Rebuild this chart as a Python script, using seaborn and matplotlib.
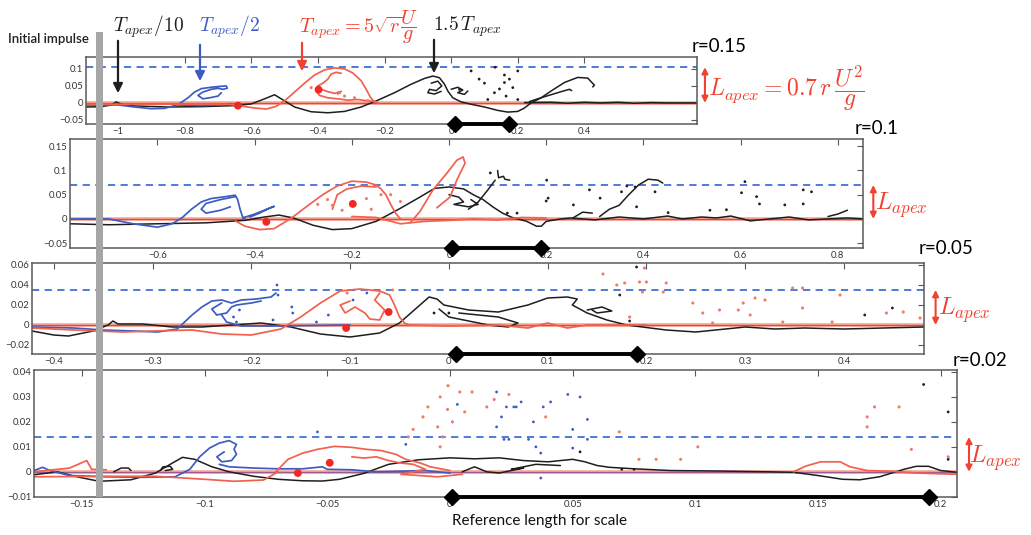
import matplotlib
matplotlib.use('Agg')
import matplotlib.pyplot as plt
import numpy as np
import pandas as pd
import seaborn as sns
from matplotlib.patches import Rectangle, FancyArrowPatch

# ---------------- data ----------------
R_LABELS = ['r=0.15', 'r=0.1', 'r=0.05', 'r=0.02']
DASH_Y = [0.105, 0.07, 0.035, 0.014]
XLIMS = [(-1.096, 0.738), (-0.78, 0.852), (-0.422, 0.481), (-0.1695, 0.2066)]
YLIMS = [(-0.062, 0.135), (-0.060, 0.165), (-0.029, 0.062), (-0.0101, 0.0408)]
XTICKS_1 = [-1, -0.8, -0.6, -0.4, -0.2, 0, 0.2, 0.4]
XTICKS_2 = [-0.6, -0.4, -0.2, 0, 0.2, 0.4, 0.6, 0.8]
XTICKS_3 = [-0.4, -0.3, -0.2, -0.1, 0, 0.1, 0.2, 0.3, 0.4]
XTICKS_4 = [-0.15, -0.1, -0.05, 0, 0.05, 0.1, 0.15, 0.2]
YTICKS_1 = [-0.05, 0, 0.05, 0.1]
YTICKS_2 = [-0.05, 0, 0.05, 0.1, 0.15]
YTICKS_3 = [-0.02, 0, 0.02, 0.04, 0.06]
YTICKS_4 = [-0.01, 0, 0.01, 0.02, 0.03, 0.04]
REF_BAR_X = [(0.012, 0.175), (0.006, 0.19), (0.007, 0.19), (0.001, 0.195)]

# ---- panel 1 (r=0.15) ----
P1_BLACK_MAIN = [(-1.096, -0.012), (-1.05, -0.011), (-1.02, -0.006), (-1.005, 0.003), (-0.99, -0.004),
                 (-0.95, -0.009), (-0.85, -0.012), (-0.75, -0.011), (-0.65, -0.008), (-0.6, -0.003),
                 (-0.56, 0.012), (-0.53, 0.024), (-0.51, 0.012), (-0.47, -0.012), (-0.42, -0.026),
                 (-0.37, -0.029), (-0.32, -0.025), (-0.27, -0.012), (-0.22, 0.008), (-0.17, 0.03),
                 (-0.12, 0.055), (-0.08, 0.072), (-0.055, 0.079), (-0.035, 0.074), (-0.02, 0.055),
                 (-0.01, 0.035), (0.005, 0.015), (0.03, 0.003), (0.06, -0.004), (0.1, -0.012),
                 (0.14, -0.022), (0.17, -0.027), (0.2, -0.025), (0.22, -0.015), (0.24, 0.0),
                 (0.27, 0.015), (0.3, 0.035), (0.34, 0.06), (0.38, 0.075), (0.41, 0.073),
                 (0.43, 0.052), (0.425, 0.047)]
P1_BLACK_JET = [(0.235, 0.004), (0.26, 0.012), (0.286, 0.02), (0.33, 0.033), (0.355, 0.04), (0.362, 0.036)]
P1_BLACK_FLAT = [(0.22, 0.001), (0.3, 0.002), (0.35, -0.001), (0.4, 0.002), (0.45, 0.0), (0.5, 0.002),
                 (0.55, -0.001), (0.6, 0.001), (0.65, 0.0), (0.738, 0.0)]
P1_BLACK_LOOP = [(-0.06, 0.058), (-0.04, 0.064), (-0.028, 0.05), (-0.045, 0.036), (-0.065, 0.04),
                 (-0.07, 0.03), (-0.05, 0.026), (-0.03, 0.034)]
P1_BLACK_CURL = [(0.0, 0.04), (0.02, 0.046), (0.035, 0.038), (0.02, 0.03), (0.04, 0.025), (0.05, 0.035)]
P1_BLACK_DOTS = [(0.06, 0.094), (0.084, 0.07), (0.132, 0.105), (0.145, 0.041), (0.16, 0.082),
                 (0.175, 0.07), (0.165, 0.02), (0.13, 0.03), (0.16, 0.06), (0.2, 0.094),
                 (0.2, 0.01), (0.1, 0.058), (0.025, 0.04), (0.11, 0.01), (0.185, 0.045)]
P1_BLUE_MAIN = [(-1.096, -0.006), (-1.0, -0.006), (-0.95, -0.012), (-0.9, -0.017), (-0.86, -0.016),
                (-0.82, -0.005), (-0.79, 0.015), (-0.77, 0.032), (-0.75, 0.042), (-0.72, 0.046),
                (-0.69, 0.049), (-0.675, 0.05), (-0.672, 0.043), (-0.685, 0.04), (-0.7, 0.043),
                (-0.72, 0.04), (-0.745, 0.032), (-0.76, 0.022), (-0.745, 0.012), (-0.72, 0.016),
                (-0.7, 0.02), (-0.69, 0.03)]
P1_BLUE_BASE = [(-0.82, -0.006), (-0.75, -0.008), (-0.7, -0.006), (-0.66, -0.004)]
P1_RED_OUTER = [(-0.67, -0.004), (-0.63, -0.009), (-0.59, -0.015), (-0.555, -0.018), (-0.525, -0.01),
                (-0.5, 0.006), (-0.47, 0.032), (-0.44, 0.058), (-0.41, 0.082), (-0.38, 0.097),
                (-0.35, 0.103), (-0.32, 0.1), (-0.295, 0.088), (-0.27, 0.065), (-0.255, 0.04),
                (-0.243, 0.018), (-0.232, 0.004), (-0.22, 0.0)]
P1_RED_INNER = [(-0.225, 0.004), (-0.25, 0.006), (-0.28, 0.01), (-0.31, 0.008), (-0.34, 0.012),
                (-0.37, 0.015), (-0.395, 0.022), (-0.405, 0.035), (-0.4, 0.05), (-0.385, 0.058),
                (-0.37, 0.07), (-0.36, 0.085), (-0.345, 0.09), (-0.33, 0.087)]
P1_RED_SWIRL = [(-0.39, 0.04), (-0.37, 0.033), (-0.35, 0.028), (-0.33, 0.034), (-0.34, 0.026)]
P1_RED_BASE = [(-1.096, -0.004), (-0.9, -0.004), (-0.75, -0.003), (-0.67, -0.004)]
P1_RED_BIG = [(-0.398, 0.039), (-0.64, -0.008)]
P1_RED_DOTS = [(-0.335, 0.03), (-0.32, 0.02), (-0.25, 0.007), (-0.42, 0.045), (-0.29, 0.015)]

# ---- panel 2 (r=0.1) ----
P2_BLACK_MAIN = [(-0.78, -0.01), (-0.7, -0.012), (-0.6, -0.01), (-0.5, -0.008), (-0.42, -0.003),
                 (-0.38, 0.004), (-0.35, 0.008), (-0.32, 0.002), (-0.28, -0.013), (-0.24, -0.022),
                 (-0.2, -0.02), (-0.15, -0.005), (-0.1, 0.022), (-0.06, 0.045), (-0.03, 0.063),
                 (0.0, 0.066), (0.03, 0.062), (0.05, 0.05), (0.07, 0.04), (0.09, 0.025), (0.11, 0.012),
                 (0.13, 0.003), (0.16, -0.005), (0.18, -0.015), (0.19, -0.015), (0.2, -0.005),
                 (0.23, 0.0), (0.25, 0.002), (0.3, -0.002), (0.35, 0.004), (0.4, 0.0), (0.45, 0.006),
                 (0.48, 0.0), (0.52, 0.004), (0.55, 0.002), (0.58, 0.006), (0.62, -0.004), (0.66, 0.0),
                 (0.7, 0.004), (0.74, -0.002), (0.78, 0.0), (0.82, 0.002), (0.852, 0.0)]
P2_BLACK_JET = [(0.04, 0.02), (0.06, 0.035), (0.08, 0.06), (0.095, 0.08)]
P2_BLACK_LOOP = [(0.0, 0.05), (0.02, 0.045), (0.03, 0.035), (0.01, 0.03), (0.04, 0.025), (0.06, 0.03),
                 (0.045, 0.04)]
P2_BLACK_FRAG1 = [(0.255, 0.002), (0.275, 0.014), (0.295, 0.012)]
P2_BLACK_FRAG2 = [(0.31, 0.005), (0.33, 0.02), (0.35, 0.028), (0.37, 0.05), (0.39, 0.07), (0.41, 0.082),
                  (0.43, 0.08), (0.44, 0.074)]
P2_BLACK_TAIL = [(0.78, 0.005), (0.8, 0.01), (0.82, 0.018)]
P2_BLACK_B = [(0.1, 0.1), (0.102, 0.085), (0.112, 0.088), (0.115, 0.082), (0.125, 0.08)]
P2_BLACK_DOTS = [(0.201, 0.08), (0.204, 0.043), (0.2, 0.037), (0.256, 0.029), (0.289, 0.06),
                 (0.311, 0.043), (0.355, 0.056), (0.366, 0.068), (0.383, 0.066), (0.386, 0.025),
                 (0.424, 0.056), (0.451, 0.013), (0.537, 0.018), (0.571, 0.019), (0.602, 0.054),
                 (0.609, 0.077), (0.633, 0.046), (0.639, 0.031), (0.691, 0.029), (0.729, 0.06),
                 (0.746, 0.056), (0.729, 0.031), (0.12, 0.012), (0.14, 0.012), (0.085, 0.095)]
P2_BLUE_MAIN = [(-0.78, 0.0), (-0.7, 0.0), (-0.65, -0.01), (-0.6, -0.017), (-0.57, -0.01),
                (-0.55, 0.002), (-0.53, 0.02), (-0.51, 0.035), (-0.49, 0.042), (-0.46, 0.046),
                (-0.44, 0.049), (-0.435, 0.04), (-0.43, 0.02), (-0.425, 0.005), (-0.42, 0.0)]
P2_BLUE_LOOP = [(-0.44, 0.046), (-0.47, 0.04), (-0.5, 0.032), (-0.51, 0.02), (-0.5, 0.012),
                (-0.47, 0.018), (-0.45, 0.025)]
P2_BLUE_TONGUE = [(-0.425, 0.002), (-0.4, 0.01), (-0.38, 0.018), (-0.36, 0.026), (-0.37, 0.022),
                  (-0.39, 0.012), (-0.41, 0.004)]
P2_RED_OUTER = [(-0.44, -0.004), (-0.42, -0.015), (-0.39, -0.022), (-0.36, -0.02), (-0.34, -0.008),
                (-0.32, 0.005), (-0.29, 0.028), (-0.26, 0.05), (-0.23, 0.068), (-0.2, 0.078),
                (-0.17, 0.076), (-0.15, 0.07), (-0.14, 0.062), (-0.13, 0.05), (-0.12, 0.03),
                (-0.11, 0.012), (-0.1, 0.0)]
P2_RED_INNER = [(-0.15, 0.066), (-0.18, 0.068), (-0.21, 0.062), (-0.23, 0.05), (-0.235, 0.035),
                (-0.24, 0.02)]
P2_RED_JET = [(-0.08, -0.008), (-0.06, 0.015), (-0.033, 0.06), (-0.004, 0.095), (0.016, 0.121),
              (0.029, 0.128), (0.033, 0.115), (0.016, 0.08), (0.002, 0.045), (-0.025, 0.023)]
P2_RED_BASE = [(-0.2, 0.005), (-0.15, 0.003), (-0.1, -0.01), (-0.05, -0.005), (0.0, -0.003),
               (0.05, 0.0), (0.1, -0.002), (0.15, 0.003), (0.2, 0.002)]
P2_RED_BIG = [(-0.376, -0.006), (-0.198, 0.031)]
P2_RED_DOTS = [(-0.25, 0.04), (-0.24, 0.028), (-0.22, 0.018), (-0.17, 0.042), (-0.14, 0.05),
               (-0.12, 0.05), (-0.1, 0.036), (-0.27, 0.03), (-0.16, 0.02)]

# ---- panel 3 (r=0.05) ----
P3_BLACK_MAIN = [(-0.422, -0.006), (-0.4, -0.01), (-0.385, -0.011), (-0.36, -0.006), (-0.345, 0.0),
                 (-0.34, 0.004), (-0.335, 0.001), (-0.31, 0.001), (-0.28, -0.002), (-0.25, -0.002),
                 (-0.22, 0.0), (-0.19, 0.002), (-0.16, -0.002), (-0.13, -0.009), (-0.1, -0.012),
                 (-0.07, -0.008), (-0.05, 0.002), (-0.035, 0.015), (-0.02, 0.028), (-0.012, 0.026),
                 (-0.005, 0.02), (0.02, 0.015), (0.05, 0.013), (0.08, 0.02), (0.1, 0.027),
                 (0.12, 0.028), (0.13, 0.026), (0.125, 0.02), (0.14, 0.012), (0.16, 0.005),
                 (0.18, 0.0), (0.22, -0.005), (0.25, -0.007), (0.28, -0.004), (0.3, -0.002),
                 (0.33, -0.004), (0.36, -0.003), (0.4, -0.004), (0.44, -0.003), (0.481, -0.002)]
P3_BLACK_LOOPS = [(-0.01, 0.016), (0.0, 0.008), (0.02, 0.004), (0.04, 0.0), (0.06, -0.002),
                  (0.07, 0.002), (0.05, 0.008), (0.03, 0.01), (0.01, 0.012)]
P3_BLACK_CURL = [(0.14, 0.015), (0.155, 0.018), (0.165, 0.014), (0.15, 0.012), (0.145, 0.015)]
P3_BLACK_DOTS = [(0.19, 0.058), (0.173, 0.03), (0.421, 0.01), (0.449, 0.017), (0.183, 0.004),
                 (0.0, 0.012), (-0.015, 0.012)]
P3_BLUE_MAIN = [(-0.422, -0.002), (-0.38, -0.003), (-0.35, -0.005), (-0.32, -0.006), (-0.295, -0.007),
                (-0.275, -0.004), (-0.26, 0.01), (-0.25, 0.018), (-0.24, 0.024), (-0.23, 0.025),
                (-0.22, 0.022), (-0.21, 0.025), (-0.195, 0.026), (-0.18, 0.028), (-0.175, 0.032)]
P3_BLUE_LOOP = [(-0.23, 0.022), (-0.24, 0.016), (-0.235, 0.01), (-0.225, 0.012), (-0.22, 0.018),
                (-0.215, 0.02), (-0.2, 0.022), (-0.19, 0.024)]
P3_BLUE_BASE = [(-0.23, 0.01), (-0.225, 0.003), (-0.21, -0.001), (-0.18, -0.001), (-0.1, 0.0)]
P3_BLUE_DOTS = [(-0.174, 0.04), (-0.173, 0.03), (-0.159, 0.018), (-0.158, 0.012), (-0.212, 0.015),
                (-0.218, 0.008), (-0.215, 0.003), (-0.134, 0.003), (-0.122, 0.01), (-0.178, 0.005),
                (-0.097, 0.025), (-0.083, 0.032)]
P3_RED_OUTER = [(-0.26, -0.005), (-0.23, -0.009), (-0.2, -0.01), (-0.17, -0.004), (-0.15, 0.008),
                (-0.13, 0.022), (-0.11, 0.034), (-0.09, 0.036), (-0.07, 0.034), (-0.06, 0.03),
                (-0.055, 0.02), (-0.05, 0.008), (-0.045, 0.002), (-0.04, 0.0)]
P3_RED_INNER = [(-0.1, 0.024), (-0.11, 0.02), (-0.105, 0.012), (-0.095, 0.018), (-0.085, 0.012),
                (-0.08, 0.006), (-0.07, 0.005), (-0.065, 0.015), (-0.075, 0.025), (-0.07, 0.032)]
P3_RED_LOWER = [(-0.422, -0.003), (-0.38, -0.005), (-0.33, -0.007), (-0.3, -0.006), (-0.26, -0.005)]
P3_RED_BASE = [(-0.04, 0.0), (0.0, -0.001), (0.05, 0.0), (0.08, -0.003), (0.1, 0.002), (0.12, -0.003),
               (0.14, 0.0), (0.2, 0.0)]
P3_RED_BIG = [(-0.104, -0.003), (-0.061, 0.013)]
P3_RED_DOTS = [(0.156, 0.051), (0.17, 0.04), (0.178, 0.042), (0.193, 0.043), (0.198, 0.057),
               (0.2, 0.043), (0.196, 0.033), (0.22, 0.042), (0.217, 0.033), (0.183, 0.008),
               (0.247, 0.022), (0.257, 0.012), (0.274, 0.015), (0.298, 0.022), (0.293, 0.015),
               (0.31, 0.027), (0.32, 0.025), (0.305, 0.01), (0.267, 0.002), (0.338, 0.003),
               (0.348, 0.037), (0.358, 0.037), (0.358, 0.017), (0.396, 0.03), (0.388, 0.003),
               (0.443, 0.012), (0.46, 0.013), (0.477, 0.007), (-0.057, 0.035), (-0.103, 0.032)]

# ---- panel 4 (r=0.02) ----
P4_BLACK_MAIN = [(-0.1695, -0.0012), (-0.16, 0.0), (-0.152, -0.002), (-0.143, -0.0038), (-0.13, -0.0032),
                 (-0.12, -0.0005), (-0.114, 0.003), (-0.109, 0.0058), (-0.104, 0.005), (-0.097, 0.002),
                 (-0.09, 0.0), (-0.08, -0.0018), (-0.07, -0.003), (-0.06, -0.0036), (-0.052, -0.0037),
                 (-0.045, -0.003), (-0.035, -0.0006), (-0.025, 0.003), (-0.013, 0.0048), (0.0, 0.0056),
                 (0.01, 0.0052), (0.02, 0.0056), (0.03, 0.0045), (0.04, 0.004), (0.05, 0.005),
                 (0.055, 0.004), (0.06, 0.0025), (0.065, 0.0018), (0.075, 0.0012), (0.09, 0.0005),
                 (0.11, 0.0003), (0.13, 0.0), (0.14, -0.0002), (0.15, -0.0015), (0.16, -0.003),
                 (0.167, -0.0032), (0.175, -0.002), (0.185, 0.001), (0.19, 0.0022), (0.195, 0.0022),
                 (0.2, 0.0005), (0.2066, -0.0002)]
P4_BLACK_BUMP = [(-0.137, 0.0), (-0.134, 0.0015), (-0.131, 0.0015), (-0.13, 0.0005)]
P4_BLACK_RING = [(-0.118, 0.0005), (-0.117, 0.002), (-0.114, 0.0022), (-0.113, 0.001), (-0.116, 0.0005)]
P4_BLACK_LOOP = [(0.005, 0.0), (0.01, 0.002), (0.015, 0.0), (0.02, -0.0005), (0.03, 0.0015),
                 (0.025, 0.001), (0.035, 0.003), (0.045, 0.0025)]
P4_BLACK_DOTS = [(0.193, 0.035), (0.203, 0.024), (0.053, 0.008), (0.203, 0.005), (0.07, 0.001),
                 (0.075, 0.001)]
P4_BLUE_MAIN = [(-0.1695, 0.0005), (-0.166, 0.0018), (-0.163, 0.0005), (-0.155, -0.0015), (-0.14, -0.002),
                (-0.125, -0.0022), (-0.112, -0.002), (-0.106, 0.001), (-0.102, 0.006), (-0.098, 0.0095),
                (-0.094, 0.0115), (-0.09, 0.0125), (-0.087, 0.011), (-0.088, 0.009), (-0.087, 0.007),
                (-0.089, 0.0045), (-0.093, 0.004), (-0.095, 0.006), (-0.092, 0.008)]
P4_BLUE_TAIL = [(-0.094, 0.003), (-0.09, 0.002), (-0.08, 0.0015), (-0.07, 0.0012), (-0.06, 0.0012),
                (-0.052, 0.002), (-0.05, 0.001), (-0.04, 0.0008), (-0.03, 0.0), (-0.01, 0.0005),
                (0.0, -0.0005)]
P4_BLUE_DOTS = [(0.019, 0.032), (0.023, 0.026), (0.027, 0.026), (0.019, 0.018), (0.022, 0.013),
                (-0.018, 0.011), (-0.054, 0.016), (0.003, 0.027), (0.021, 0.022), (0.026, 0.026),
                (0.029, 0.028), (0.034, 0.02), (0.038, 0.026), (0.041, 0.028), (0.048, 0.031),
                (0.053, 0.03), (0.05, 0.017), (0.056, 0.021), (0.024, 0.013), (0.032, 0.013),
                (0.035, 0.01), (0.037, 0.0075), (0.05, 0.0095), (0.056, 0.013), (0.037, -0.0025)]
P4_RED_LEFT = [(-0.1695, 0.0), (-0.155, 0.0015), (-0.148, 0.0045), (-0.146, 0.001), (-0.14, 0.0008)]
P4_RED_LOWER = [(-0.1695, -0.002), (-0.14, -0.0018), (-0.12, -0.0018), (-0.1, -0.003), (-0.088, -0.0038),
                (-0.076, -0.0033), (-0.07, 0.0)]
P4_RED_OUTER = [(-0.071, 0.0), (-0.066, 0.005), (-0.06, 0.0075), (-0.054, 0.009), (-0.047, 0.0102),
                (-0.04, 0.0098), (-0.034, 0.009), (-0.028, 0.0085), (-0.022, 0.007), (-0.018, 0.005),
                (-0.012, 0.0035), (-0.008, 0.002), (0.0, 0.0005)]
P4_RED_INNER = [(-0.04, 0.006), (-0.035, 0.0055), (-0.03, 0.006), (-0.025, 0.0045), (-0.02, 0.0035),
                (-0.015, 0.003), (-0.01, 0.001), (-0.02, -0.001), (-0.005, -0.002), (0.005, -0.001)]
P4_RED_RIGHT = [(0.14, 0.0), (0.145, 0.0023), (0.151, 0.004), (0.159, 0.004), (0.163, 0.002),
                (0.17, 0.0005), (0.18, 0.0002), (0.19, -0.0005), (0.2066, -0.001)]
P4_RED_BIG = [(-0.062, -0.0005), (-0.049, 0.0036)]
P4_RED_DOTS = [(-0.0008, 0.0345), (0.004, 0.032), (-0.004, 0.03), (-0.009, 0.026), (-0.011, 0.022),
               (-0.015, 0.017), (-0.017, 0.014), (-0.001, 0.025), (-0.005, 0.018), (-0.003, 0.014),
               (0.001, 0.02), (0.006, 0.024), (0.009, 0.032), (0.015, 0.026), (0.018, 0.029),
               (0.024, 0.031), (-0.004, 0.01), (0.039, 0.022), (0.069, 0.016), (0.077, 0.005),
               (0.084, 0.005), (0.094, 0.005), (0.101, 0.01), (0.17, 0.022), (0.17, 0.018),
               (0.173, 0.026), (0.183, 0.026), (0.188, 0.009), (0.203, 0.006)]

PANEL_CURVES = [
    {'black': [P1_BLACK_MAIN, P1_BLACK_JET, P1_BLACK_FLAT, P1_BLACK_LOOP, P1_BLACK_CURL],
     'blue': [P1_BLUE_MAIN, P1_BLUE_BASE],
     'red': [P1_RED_OUTER, P1_RED_INNER, P1_RED_SWIRL, P1_RED_BASE],
     'black_dots': P1_BLACK_DOTS, 'blue_dots': [], 'red_dots': P1_RED_DOTS, 'red_big': P1_RED_BIG},
    {'black': [P2_BLACK_MAIN, P2_BLACK_JET, P2_BLACK_LOOP, P2_BLACK_FRAG1, P2_BLACK_FRAG2,
               P2_BLACK_TAIL, P2_BLACK_B],
     'blue': [P2_BLUE_MAIN, P2_BLUE_LOOP, P2_BLUE_TONGUE],
     'red': [P2_RED_OUTER, P2_RED_INNER, P2_RED_JET, P2_RED_BASE],
     'black_dots': P2_BLACK_DOTS, 'blue_dots': [], 'red_dots': P2_RED_DOTS, 'red_big': P2_RED_BIG},
    {'black': [P3_BLACK_MAIN, P3_BLACK_LOOPS, P3_BLACK_CURL],
     'blue': [P3_BLUE_MAIN, P3_BLUE_LOOP, P3_BLUE_BASE],
     'red': [P3_RED_OUTER, P3_RED_INNER, P3_RED_LOWER, P3_RED_BASE],
     'black_dots': P3_BLACK_DOTS, 'blue_dots': P3_BLUE_DOTS, 'red_dots': P3_RED_DOTS, 'red_big': P3_RED_BIG},
    {'black': [P4_BLACK_MAIN, P4_BLACK_BUMP, P4_BLACK_RING, P4_BLACK_LOOP],
     'blue': [P4_BLUE_MAIN, P4_BLUE_TAIL],
     'red': [P4_RED_LEFT, P4_RED_LOWER, P4_RED_OUTER, P4_RED_INNER, P4_RED_RIGHT],
     'black_dots': P4_BLACK_DOTS, 'blue_dots': P4_BLUE_DOTS, 'red_dots': P4_RED_DOTS, 'red_big': P4_RED_BIG},
]

# ---------------- style ----------------
sns.set_theme(style='white')
plt.rcParams['font.family'] = ['Lato', 'DejaVu Sans']
plt.rcParams['mathtext.fontset'] = 'cm'
plt.rcParams['axes.unicode_minus'] = True

W, H = 1031, 535
BLACK = '#1e1e1e'
BLUE = '#3c5cc2'
RED = '#f2604e'
RED_TXT = '#f2412f'
DASH = '#3e72d8'
FRAME = '#5a5a5a'

fig = plt.figure(figsize=(W / 100, H / 100), dpi=100)
fig.patch.set_facecolor('white')

AXES_PX = [(86, 57, 697, 124), (70, 139, 863, 248), (32, 263, 924, 354), (34, 370, 957, 497)]
XTICKS = [XTICKS_1, XTICKS_2, XTICKS_3, XTICKS_4]
YTICKS = [YTICKS_1, YTICKS_2, YTICKS_3, YTICKS_4]


def fmt(v):
    s = f'{v:g}'
    return s.replace('-', '\u2212')


def draw_curves(ax, segs, color, lw=1.2):
    rows = []
    for i, seg in enumerate(segs):
        for (x, y) in seg:
            rows.append((x, y, i))
    df = pd.DataFrame(rows, columns=['x', 'y', 'seg'])
    sns.lineplot(data=df, x='x', y='y', units='seg', estimator=None, sort=False,
                 color=color, linewidth=lw, ax=ax, legend=False)


def draw_dots(ax, pts, color, s):
    if not pts:
        return
    sns.scatterplot(x=[p[0] for p in pts], y=[p[1] for p in pts], color=color, s=s,
                    edgecolor='none', ax=ax, legend=False, zorder=4)


axes = []
for i, (l, t, r, b) in enumerate(AXES_PX):
    ax = fig.add_axes([l / W, 1 - b / H, (r - l) / W, (b - t) / H])
    ax.set_facecolor('white')
    ax.axhline(0, color='#f6a898', lw=2.6, zorder=1)
    ax.axhline(0, color=RED, lw=1.0, zorder=1)
    ax.axhline(0, color='#7d5aa8', lw=0.5, zorder=1)
    ax.axhline(DASH_Y[i], color=DASH, lw=1.3, ls=(0, (4, 3)), zorder=2)
    cur = PANEL_CURVES[i]
    draw_curves(ax, cur['black'], BLACK, 1.1)
    draw_curves(ax, cur['blue'], BLUE, 1.25)
    draw_curves(ax, cur['red'], RED, 1.25)
    draw_dots(ax, cur['black_dots'], BLACK, 4)
    draw_dots(ax, cur['blue_dots'], BLUE, 4)
    draw_dots(ax, cur['red_dots'], '#f27a6a', 5)
    draw_dots(ax, cur['red_big'], '#f02a22', 32)
    # reference bar
    ax.plot(list(REF_BAR_X[i]), [YLIMS[i][0]] * 2, color='black', lw=2.8, marker='D',
            markersize=8, clip_on=False, zorder=6)
    ax.set_xlim(*XLIMS[i])
    ax.set_ylim(*YLIMS[i])
    ax.set_xticks(XTICKS[i])
    ax.set_xticklabels([fmt(v) for v in XTICKS[i]])
    ax.set_yticks(YTICKS[i])
    ax.set_yticklabels([fmt(v) for v in YTICKS[i]])
    ax.set_xlabel('')
    ax.set_ylabel('')
    ax.tick_params(direction='in', length=4, width=0.8, color=FRAME, labelsize=6.8,
                   labelcolor='#333333', top=True, right=True, pad=2)
    for sp in ax.spines.values():
        sp.set_color(FRAME)
        sp.set_linewidth(1.1)
        sp.set_visible(True)
    # L_apex double arrow
    ax.annotate('', xy=(1.013, DASH_Y[i]), xytext=(1.013, 0), xycoords=ax.get_yaxis_transform(),
                textcoords=ax.get_yaxis_transform(),
                arrowprops=dict(arrowstyle='<|-|>', color=RED_TXT, lw=1.5, mutation_scale=9,
                                shrinkA=0, shrinkB=0), annotation_clip=False)
    axes.append(ax)


def fx(px):
    return px / W


def fy(py):
    return 1 - py / H


# gray initial impulse bar
fig.add_artist(Rectangle((fx(96), fy(497)), 7 / W, (497 - 32) / H, transform=fig.transFigure,
                         facecolor='#a6a6a6', edgecolor='none', zorder=10))
fig.text(fx(8), fy(39), 'Initial impulse', fontsize=9.5, fontweight='semibold', color='#222222',
         va='center', ha='left')

# top annotations
fig.text(fx(149), fy(27), r'$T_{apex}/10$', fontsize=14, color=BLACK, ha='center', va='center')
fig.text(fx(230), fy(27), r'$T_{apex}/2$', fontsize=14, color=BLUE, ha='center', va='center')
fig.text(fx(359), fy(27), r'$T_{apex} = 5\sqrt{r}\dfrac{U}{g}$', fontsize=14.5, color=RED_TXT,
         ha='center', va='center')
fig.text(fx(467), fy(27), r'$1.5\,T_{apex}$', fontsize=14, color=BLACK, ha='center', va='center')

for (x0, y0, y1, c) in [(118, 38, 96, BLACK), (200, 42, 84, BLUE), (302, 40, 74, RED_TXT), (434, 37, 76, BLACK)]:
    fig.add_artist(FancyArrowPatch((fx(x0), fy(y0)), (fx(x0), fy(y1)),
                   transform=fig.transFigure, arrowstyle='-|>', mutation_scale=14,
                   color=c, lw=1.6, zorder=11))

# r labels
for (txt, x, y) in zip(R_LABELS, [692, 855, 919, 953], [47, 129, 249, 360]):
    fig.text(fx(x), fy(y), txt, fontsize=13.5, color='black', ha='left', va='center')

# L_apex labels
fig.text(fx(708), fy(88), r'$L_{apex} = 0.7\,r\,\dfrac{U^2}{g}$', fontsize=17, color=RED_TXT,
         ha='left', va='center')
for (x, y) in [(875, 205), (938, 310), (969, 458)]:
    fig.text(fx(x), fy(y), r'$L_{apex}$', fontsize=17.5, color=RED_TXT, ha='left', va='center')

fig.text(fx(452), fy(521), 'Reference length for scale', fontsize=11, color='#111111',
         ha='left', va='center')

fig.savefig('out.png', dpi=100, facecolor='white')
